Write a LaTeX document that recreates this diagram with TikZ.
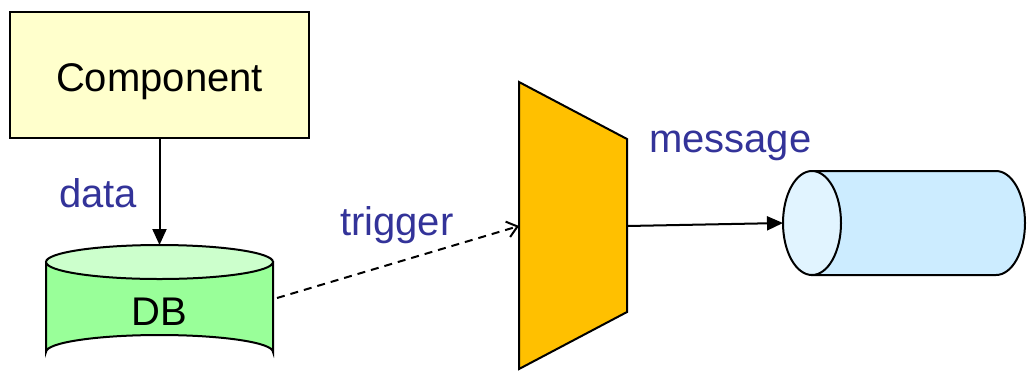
\documentclass[tikz,border=0pt]{standalone}
\usepackage{fontspec}
\setmainfont{Liberation Sans}
\usetikzlibrary{arrows.meta}

\definecolor{compfill}{HTML}{FFFFCC}
\definecolor{dbbody}{HTML}{99FF99}
\definecolor{dbtop}{HTML}{CCFFCC}
\definecolor{gatefill}{HTML}{FFC000}
\definecolor{queuebody}{HTML}{CCECFF}
\definecolor{queueend}{HTML}{E1F4FF}
\definecolor{labelblue}{HTML}{333399}

\begin{document}
\begin{tikzpicture}[
  x=0.5pt, y=-0.5pt,
  line width=1pt,
  every node/.style={font=\fontsize{20}{24}\selectfont, inner sep=0pt},
  comp box/.style={draw, fill=compfill, minimum width=149.5pt, minimum height=63pt},
  flow label/.style={text=labelblue, anchor=base west}
]
\useasboundingbox (0,0) rectangle (1027,371);

% Shapes
\filldraw[fill=dbbody] (46,262) -- (46,352) arc[start angle=180, end angle=360, x radius=113.5, y radius=17] -- (273,262) -- cycle;
\filldraw[fill=dbtop] (159.5,262) ellipse[x radius=113.5, y radius=17];
\filldraw[fill=gatefill] (519,82) -- (627,139) -- (627,312) -- (519,369) -- cycle;
\filldraw[fill=queuebody] (812,171) -- (996,171) arc[start angle=270, end angle=450, x radius=29, y radius=52] -- (812,275) -- cycle;
\filldraw[fill=queueend] (812,223) ellipse[x radius=29, y radius=52];

% Nodes
\node[comp box] (comp) at (159.5,75) {};
\node[anchor=base] (comptext) at (159.5,91) {Component};
\node[anchor=base] (db) at (159.5,325) {DB};
\node[flow label] (data) at (58,207) {data};
\node[flow label] (trigger) at (339,235) {trigger};
\node[flow label] (message) at (648,152) {message};
\coordinate (dbtopc) at (159.5,245);
\coordinate (dbside) at (277,298);
\coordinate (gatein) at (519,226);
\coordinate (gateout) at (627,226);
\coordinate (queuein) at (783,223);

% Edges
\draw[-{Triangle[length=8pt,width=7pt]}] (comp.south) -- (dbtopc);
\draw[dash pattern=on 4pt off 3pt, -{Straight Barb[length=5pt,width=8pt]}] (dbside) -- (gatein);
\draw[-{Triangle[length=8pt,width=7pt]}] (gateout) -- (queuein);
\end{tikzpicture}
\end{document}
